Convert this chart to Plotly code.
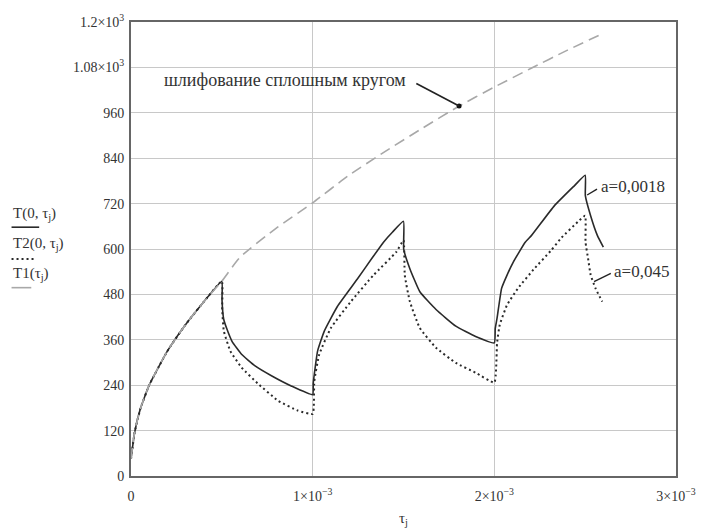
import plotly.graph_objects as go
import numpy as np

# ---- data (time in ms, temperature) ----
t_T_ms = [0, 0.02, 0.05, 0.1, 0.2, 0.3, 0.4, 0.5, 0.501, 0.51, 0.529, 0.556, 0.61, 0.683, 0.773, 0.882, 1.0,
          1.003, 1.009, 1.027, 1.064, 1.136, 1.245, 1.33, 1.39, 1.44, 1.5,
          1.501, 1.535, 1.59, 1.679, 1.788, 1.897, 2.0,
          2.005, 2.015, 2.04, 2.07, 2.105, 2.17, 2.205, 2.33, 2.44, 2.5,
          2.501, 2.53, 2.567, 2.6]
T_vals = [45, 115, 175, 240, 330, 400, 460, 515, 465, 415, 387, 356, 321, 291, 265, 238, 215,
          245, 269, 330, 383, 448, 520, 578, 618, 645, 673,
          600, 548, 487, 440, 396, 369, 352,
          390, 417, 496, 531, 566, 618, 636, 714, 767, 795,
          741, 688, 636, 605]

t_T2_ms = [0, 0.02, 0.05, 0.1, 0.2, 0.3, 0.4, 0.5, 0.502, 0.511, 0.547, 0.61, 0.701, 0.81, 0.918, 1.0,
           1.009, 1.036, 1.1, 1.21, 1.335, 1.46, 1.5,
           1.507, 1.535, 1.59, 1.679, 1.788, 1.897, 2.0,
           2.015, 2.03, 2.07, 2.13, 2.22, 2.31, 2.37, 2.46, 2.5,
           2.502, 2.516, 2.53, 2.557, 2.594]
T2_vals = [45, 115, 175, 240, 330, 400, 460, 515, 440, 383, 330, 286, 243, 199, 173, 164,
           251, 321, 391, 461, 531, 592, 623,
           531, 461, 391, 339, 299, 273, 247,
           352, 400, 452, 496, 548, 595, 630, 672, 688,
           618, 575, 532, 496, 461]

t_T1_ms = [0, 0.02, 0.05, 0.1, 0.2, 0.3, 0.4, 0.5, 0.6, 0.8, 1.0, 1.2, 1.4, 1.6, 1.8, 2.0, 2.2, 2.4, 2.6]
T1_vals = [45, 115, 175, 240, 330, 400, 460, 515, 578, 655, 722, 795, 858, 918, 976, 1028, 1077, 1125, 1170]

marker_t_ms = [1.806]
marker_T = [978]

x_tickvals = [0, 1e-3, 2e-3, 3e-3]
x_ticktext = ["0", "1×10<sup>−3</sup>", "2×10<sup>−3</sup>", "3×10<sup>−3</sup>"]
y_tickvals = [0, 120, 240, 360, 480, 600, 720, 840, 960, 1080, 1200]
y_ticktext = ["0", "120", "240", "360", "480", "600", "720", "840", "960",
              "1.08×10<sup>3</sup>", "1.2×10<sup>3</sup>"]

# ---- layout geometry ----
W, H = 708, 528
L, R, TOP, BOT = 131, 683, 18, 476
XMAX, YMAX = 3e-3, 1200


def px2paper_x(px):
    return (px - L) / (R - L)


def px2paper_y(py):
    return (BOT - py) / (BOT - TOP)


def px2x(px):
    return (px - L) / (R - L) * XMAX


def px2y(py):
    return (BOT - py) / (BOT - TOP) * YMAX


ms = 1e-3
FONT = "Liberation Serif"
INK = "#333333"

fig = go.Figure()
fig.add_trace(go.Scatter(x=np.array(t_T_ms) * ms, y=T_vals, mode="lines",
                         line=dict(color="#2a2a2a", width=1.6, shape="spline", smoothing=0.4),
                         name="T(0,τj)"))
fig.add_trace(go.Scatter(x=np.array(t_T2_ms) * ms, y=T2_vals, mode="lines",
                         line=dict(color="#2a2a2a", width=2, dash="2px,3px", shape="spline", smoothing=0.4),
                         name="T2(0,τj)"))
fig.add_trace(go.Scatter(x=np.array(t_T1_ms) * ms, y=T1_vals, mode="lines",
                         line=dict(color="#a8a8a8", width=1.6, dash="11px,6px", shape="spline", smoothing=0.6),
                         name="T1(τj)"))
fig.add_trace(go.Scatter(x=np.array(marker_t_ms) * ms, y=marker_T, mode="markers",
                         marker=dict(color="#111", size=5), name="dot"))

axis_common = dict(showgrid=True, gridcolor="#c8c8c8", gridwidth=1.2, zeroline=False,
                   showline=True, mirror=True, linecolor="#666666", linewidth=2,
                   ticks="", tickfont=dict(family=FONT, size=14, color=INK))

fig.update_xaxes(range=[0, XMAX], tickvals=x_tickvals, ticktext=x_ticktext,
                 ticklabelstandoff=6, **axis_common)
fig.update_yaxes(range=[0, YMAX], tickvals=y_tickvals, ticktext=y_ticktext,
                 ticklabelstandoff=2, **axis_common)

annotations = []
shapes = []

# x title
annotations.append(dict(text="τ<sub>j</sub>", xref="paper", yref="paper",
                        x=0.5, y=px2paper_y(519), xanchor="center", yanchor="middle",
                        showarrow=False, font=dict(family=FONT, size=15, color=INK)))

# left legend-like y title
legend_items = [("T(0, τ<sub>j</sub>)", 212, 225, dict(color="#2a2a2a", width=1.6), 38),
                ("T2(0, τ<sub>j</sub>)", 242, 257, dict(color="#2a2a2a", width=2, dash="2px,3px"), 34),
                ("T1(τ<sub>j</sub>)", 272, 286, dict(color="#a8a8a8", width=1.6), 30)]
for text, ty, ly, lstyle, lend in legend_items:
    annotations.append(dict(text=text, xref="paper", yref="paper", x=px2paper_x(9), y=px2paper_y(ty),
                            xanchor="left", yanchor="middle", showarrow=False,
                            font=dict(family=FONT, size=15, color=INK)))
    shapes.append(dict(type="line", xref="paper", yref="paper",
                       x0=px2paper_x(10), x1=px2paper_x(lend), y0=px2paper_y(ly), y1=px2paper_y(ly),
                       line=lstyle))

# annotation: grinding with solid wheel
annotations.append(dict(text="шлифование сплошным кругом", xref="paper", yref="paper",
                        x=px2paper_x(412), y=px2paper_y(77), xanchor="right", yanchor="middle",
                        showarrow=False, font=dict(family=FONT, size=18, color=INK)))
shapes.append(dict(type="line", xref="x", yref="y", x0=px2x(420), y0=px2y(80),
                   x1=marker_t_ms[0] * ms, y1=marker_T[0], line=dict(color="#222", width=1.6)))

# a=0,0018 label
annotations.append(dict(text="a=0,0018", xref="paper", yref="paper",
                        x=px2paper_x(605), y=px2paper_y(184), xanchor="left", yanchor="middle",
                        showarrow=False, font=dict(family=FONT, size=17, color=INK)))
shapes.append(dict(type="line", xref="x", yref="y", x0=px2x(603), y0=px2y(186.5),
                   x1=px2x(593), y1=px2y(192.5), line=dict(color="#222", width=1.4)))

# a=0,045 label
annotations.append(dict(text="a=0,045", xref="paper", yref="paper",
                        x=px2paper_x(618), y=px2paper_y(270), xanchor="left", yanchor="middle",
                        showarrow=False, font=dict(family=FONT, size=17, color=INK)))
shapes.append(dict(type="line", xref="x", yref="y", x0=px2x(617), y0=px2y(271.5),
                   x1=px2x(600), y1=px2y(280), line=dict(color="#222", width=1.4)))

fig.update_layout(width=W, height=H, margin=dict(l=L, r=W - R, t=TOP, b=H - BOT),
                  plot_bgcolor="white", paper_bgcolor="white", showlegend=False,
                  hovermode=False,
                  font=dict(family=FONT, size=14, color=INK),
                  annotations=annotations, shapes=shapes)

fig.write_html("out.html", config={"displayModeBar": False},
               post_script="document.body.style.margin='0';document.body.style.overflow='hidden';")
